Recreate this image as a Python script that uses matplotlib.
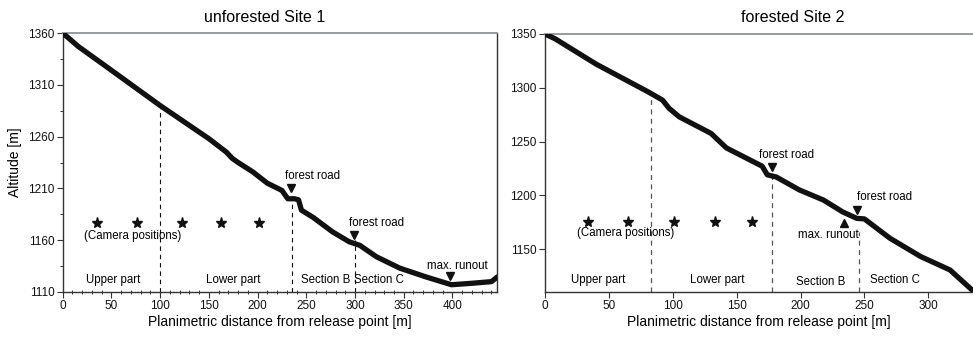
import matplotlib
matplotlib.use("Agg")
import matplotlib.pyplot as plt
from matplotlib.ticker import MultipleLocator, FixedLocator
from matplotlib import font_manager

names = {f.name for f in font_manager.fontManager.ttflist}
fam = ['Liberation Sans Narrow'] if 'Liberation Sans Narrow' in names else []
fam += ['Liberation Sans', 'DejaVu Sans']
plt.rcParams['font.family'] = fam

# ---------------- data ----------------
site1_x = [0, 16, 50, 100, 150, 168, 174, 180, 195, 210, 225, 231, 238, 242, 245,
           257, 277, 294, 305, 322, 346, 373, 399, 421, 440, 446]
site1_alt = [1360, 1347, 1324, 1290, 1258, 1245, 1239, 1235, 1226, 1215, 1208, 1200, 1200,
             1199, 1189, 1182, 1168, 1158.5, 1155, 1144, 1133, 1124.5, 1117, 1118.5, 1120, 1124.5]
site2_x = [0, 8, 40, 81, 92, 97, 105, 130, 142, 170, 174, 181, 199, 218, 233, 244, 250,
           270, 294, 317, 336]
site2_alt = [1350, 1345.5, 1322, 1296, 1288.5, 1281, 1273, 1257.5, 1244, 1227, 1219, 1217,
             1205, 1195.5, 1184.5, 1178.5, 1178, 1160, 1143, 1130.5, 1110]

site1_cam_x = [35, 76, 122, 162, 201]
site1_cam_alt = 1177
site2_cam_x = [34, 65, 101, 133, 162]
site2_cam_alt = 1175

site1_div_x = [100, 235, 300]
site1_div_top = [1288, 1199, 1160]
site2_div_x = [83, 178, 246]
site2_div_top = [1293, 1220, 1166]

site1_sections = ["Upper part", "Lower part", "Section B", "Section C"]
site1_section_x = [52, 175, 270, 325]
site2_sections = ["Upper part", "Lower part", "Section B", "Section C"]
site2_section_x = [42, 135, 216, 274]
site2_section_alt = [1121, 1121, 1119, 1121]

site1_xticks = [0, 50, 100, 150, 200, 250, 300, 350, 400]
site1_yticks = [1110, 1160, 1210, 1260, 1310, 1360]
site2_xticks = [0, 50, 100, 150, 200, 250, 300]
site2_yticks = [1150, 1200, 1250, 1300, 1350]

W, H = 973, 338
fig = plt.figure(figsize=(W / 100, H / 100), dpi=100)

def px_axes(l, r, t, b):
    return fig.add_axes([l / W, 1 - b / H, (r - l) / W, (b - t) / H])

ax1 = px_axes(62.7, 497.3, 33, 292)
ax2 = px_axes(545, 973, 34, 292)

FS = 8.3
spine_col = '#333333'
for ax in (ax1, ax2):
    for s in ('left', 'bottom', 'right'):
        ax.spines[s].set_color(spine_col)
        ax.spines[s].set_linewidth(1.0)
    ax.spines['top'].set_color('#8c939b')
    ax.spines['top'].set_linewidth(1.3)
    ax.tick_params(axis='both', which='major', direction='out', length=4, width=0.8,
                   labelsize=8.5, pad=2, colors=spine_col, labelcolor='#111111')
    ax.tick_params(top=False, right=False)
ax2.spines['right'].set_visible(False)

# ---------- Site 1 ----------
ax1.plot(site1_x, site1_alt, color='#111111', lw=3.8, solid_capstyle='round',
         solid_joinstyle='round', zorder=3)
ax1.set_xlim(0, 446)
ax1.set_ylim(1110, 1360)
ax1.xaxis.set_major_locator(FixedLocator(site1_xticks))
ax1.yaxis.set_major_locator(FixedLocator(site1_yticks))
ax1.xaxis.set_minor_locator(MultipleLocator(10))
ax1.yaxis.set_minor_locator(FixedLocator([1135, 1185, 1235, 1285, 1335]))
ax1.tick_params(axis='x', which='minor', direction='inout', length=3, width=0.7, colors=spine_col)
ax1.tick_params(axis='y', which='minor', direction='out', length=2.5, width=0.7, colors=spine_col)
ax1.plot(site1_cam_x, [site1_cam_alt] * len(site1_cam_x), ls='none', marker='*',
         ms=8, color='#111111')
for x, top in zip(site1_div_x, site1_div_top):
    ax1.plot([x, x], [1110, top], color='#111111', lw=0.8, ls=(0, (4, 3.5)), zorder=2)
for lab, x in zip(site1_sections, site1_section_x):
    ax1.text(x, 1121.5, lab, ha='center', va='center', fontsize=FS)
ax1.text(72, 1164, "(Camera positions)", ha='center', va='center', fontsize=FS)
ax1.plot([234.5], [1210], ls='none', marker='v', ms=6, color='#111111')
ax1.text(256, 1222, "forest road", ha='center', va='center', fontsize=FS)
ax1.plot([299], [1165], ls='none', marker='v', ms=6, color='#111111')
ax1.text(322, 1177, "forest road", ha='center', va='center', fontsize=FS)
ax1.plot([397], [1125], ls='none', marker='v', ms=6, color='#111111')
ax1.text(405, 1135, "max. runout", ha='center', va='center', fontsize=FS)
ax1.set_ylabel("Altitude [m]", fontsize=10, labelpad=4)
ax1.set_xlabel("Planimetric distance from release point [m]", fontsize=10, labelpad=2)
fig.text(265 / W, 1 - 17 / H, "unforested Site 1", ha='center', va='center', fontsize=11.5)

# ---------- Site 2 ----------
ax2.plot(site2_x, site2_alt, color='#111111', lw=3.8, solid_capstyle='round',
         solid_joinstyle='round', zorder=3)
ax2.set_xlim(0, 335)
ax2.set_ylim(1110, 1350)
ax2.xaxis.set_major_locator(FixedLocator(site2_xticks))
ax2.yaxis.set_major_locator(FixedLocator(site2_yticks))
ax2.plot(site2_cam_x, [site2_cam_alt] * len(site2_cam_x), ls='none', marker='*',
         ms=8, color='#111111')
for x, top in zip(site2_div_x, site2_div_top):
    ax2.plot([x, x], [1110, top], color='#555555', lw=0.9, ls=(0, (4, 3.5)), zorder=2)
for lab, x, y in zip(site2_sections, site2_section_x, site2_section_alt):
    ax2.text(x, y, lab, ha='center', va='center', fontsize=FS)
ax2.text(63, 1164.5, "(Camera positions)", ha='center', va='center', fontsize=FS)
ax2.plot([178], [1226], ls='none', marker='v', ms=6, color='#111111')
ax2.text(189, 1237, "forest road", ha='center', va='center', fontsize=FS)
ax2.plot([244.5], [1186], ls='none', marker='v', ms=6, color='#111111')
ax2.text(266, 1198.5, "forest road", ha='center', va='center', fontsize=FS)
ax2.plot([234], [1174.5], ls='none', marker='^', ms=6, color='#111111')
ax2.text(222, 1163, "max. runout", ha='center', va='center', fontsize=FS)
ax2.set_xlabel("Planimetric distance from release point [m]", fontsize=10, labelpad=2)
fig.text(793 / W, 1 - 17 / H, "forested Site 2", ha='center', va='center', fontsize=11.5)

fig.savefig("out.png", dpi=100)
